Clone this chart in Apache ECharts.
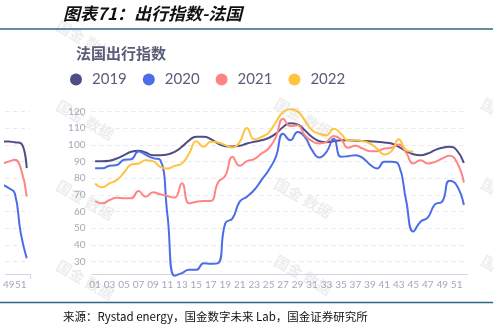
<!DOCTYPE html>
<html><head><meta charset="utf-8">
<script src="https://cdn.jsdelivr.net/npm/echarts@6/dist/echarts.min.js"></script>
<style>html,body{margin:0;padding:0;background:#fff}#c{width:493px;height:326px}</style>
</head><body><div id="c"></div>
<script>
const weeks = ['01','02','03','04','05','06','07','08','09','10','11','12','13','14','15','16','17','18','19','20','21','22','23','24','25','26','27','28','29','30','31','32','33','34','35','36','37','38','39','40','41','42','43','44','45','46','47','48','49','50','51','52'];
const seriesNames = ['2019','2020','2021','2022'];
const v2019 = [90.2,90.2,90.5,91.8,93.8,95.8,96.4,95.4,93.8,93.8,94.2,95.8,98.8,102.7,104.9,104.9,103.4,100.8,99.2,99,99.4,100.8,101.8,102.7,104.1,106.7,110.7,112.9,112.3,108.7,104.7,102.2,101.6,102.2,102.7,102.7,102.5,102.3,102.2,101.8,101.4,100.8,98.8,96.2,94.4,93.8,94.8,96.8,98.2,98.8,96.8,89.2];
const v2020 = [86,86,87.4,87.9,91,91.4,96,94,92,91,58,21.5,23,25,25,29,28.6,29,52.9,55.9,65.9,68.9,72.9,78.8,84.8,92.8,106.7,102.7,107.7,104.7,96.8,92.4,95.8,103.7,92.8,93.2,93.8,92.2,88.2,85.8,89.8,89.8,87.8,66.9,48,53.9,56.3,64.3,65.9,78.4,75.8,63.9];
const v2021 = [66.3,64.9,66.9,68.3,67.9,67.9,72.3,68.9,71.5,70.3,69.3,68.3,76.9,64.9,65.9,66.3,66.3,77.4,81.4,92.8,87.4,90.2,91.4,94.8,97.8,104.7,115.7,111.3,111.7,105.7,102.2,100.8,101.8,105.3,103.3,98.2,99.4,97.8,96.2,96.2,97.8,98.2,100.2,95.4,88.8,90.8,88.8,89.8,91.8,93.4,89.8,77.4];
const v2022 = [76.9,74.5,76.9,78.8,83.4,88.2,88.8,90.8,90.2,86.8,85.8,87.4,88.8,94.8,102.2,98.8,101.8,101.4,99.8,98.4,101.8,110.1,103.3,104.7,107.3,113.7,119.7,121.3,120.1,114.7,108.7,106.7,105.7,109.7,106.7,102.7,102.7,102.2,100.8,97.8,94.2,96.2,103.3,96.8,95.8];
// neighbouring (cropped) chart on the left edge: its last weeks only
const prevWeeks = [47,48,49,50,51,52];
const prevTail2019 = [102,102,102,101.5,101,86];
const prevTail2020 = [77,76,74,71,47,32];
const prevTail2021 = [89,89,90,91,86,69];
const prevWeekLabels = [49,51];
const yTicks = [30,40,50,60,70,80,90,100,110,120];
const colors = ['#4f4d88','#4d6cea','#ff8585','#ffc33f'];

const pairs = a => prevWeeks.map((w,i)=>[w,a[i]]);
const lab = {color:'#a3a8ba', fontSize:10, fontFamily:'Lato'};
const split = {show:true, lineStyle:{color:'#e8e8ec', type:[4,4], width:1}};

function yAxis(idx, showLab){
  return {type:'value', gridIndex:idx, min:22.5, max:120, splitNumber:10,
    axisLine:{show:false}, axisTick:{show:false}, splitLine:split,
    axisLabel:{show:showLab, ...lab, margin:6, showMinLabel:false,
      formatter:v => yTicks.includes(v) ? String(v) : ''}};
}
const wm = [];
[[85,40],[85,120],[85,200],[85,280],[303,118],[303,198],[303,275],[510,118],[510,198],[510,275]].forEach(p=>{
  wm.push({type:'text', x:p[0], y:p[1], rotation:-0.52, silent:true, z:0,
    style:{text:'国金 数据', fill:'rgba(190,190,195,0.28)', font:'bold 15px "Noto Sans CJK SC"', align:'center', verticalAlign:'middle'}});
});

const line = (name, data, c, xi, yi) => ({name, type:'line', data, xAxisIndex:xi, yAxisIndex:yi,
  smooth:0.5, symbol:'none', clip:false,
  lineStyle:{width:2, color:c}, itemStyle:{color:c}});

const chart = echarts.init(document.getElementById('c'), null, {renderer:'canvas'});
chart.setOption({
  animation:false,
  backgroundColor:'#fff',
  title:{text:'法国出行指数', left:71, top:41, textStyle:{fontSize:15, fontWeight:'bold', color:'#585d78', fontFamily:'"Noto Sans CJK SC"'}},
  legend:{data:seriesNames, left:70, top:72, icon:'circle', itemWidth:12, itemHeight:12, itemGap:16, padding:0,
    textStyle:{fontSize:15, color:'#585d78', fontFamily:'Lato', padding:[0,0,0,5]}},
  grid:[{left:91.5, right:25.5, top:111.5, bottom:52},
        {left:0, right:463, top:111.5, bottom:52}],
  xAxis:[
    {type:'category', gridIndex:0, data:weeks, boundaryGap:true,
      axisLine:{lineStyle:{color:'#d6d6dc'}}, axisTick:{show:false},
      axisLabel:{...lab, interval:1, margin:6}},
    {type:'value', gridIndex:1, min:48.4, max:52.55,
      axisLine:{lineStyle:{color:'#d6d6dc'}}, splitLine:{show:false},
      axisTick:{show:true, length:5, lineStyle:{color:'#d6d6dc'}, customValues:[52.55]},
      axisLabel:{...lab, margin:6, customValues:prevWeekLabels}}
  ],
  yAxis:[yAxis(0,true), yAxis(1,false)],
  graphic: wm.concat([
    {type:'text', x:63, y:14, style:{text:'图表71：出行指数-法国', font:'italic bold 17px "Noto Sans CJK SC"', fill:'#111', verticalAlign:'middle'}},
    {type:'line', shape:{x1:0,y1:29,x2:493,y2:29}, style:{stroke:'#2f6687', lineWidth:1.5}},
    {type:'line', shape:{x1:0,y1:302.5,x2:493,y2:302.5}, style:{stroke:'#2f6687', lineWidth:1.5}},
    {type:'text', x:63, y:317, style:{text:'来源：Rystad energy，国金数字未来 Lab，国金证券研究所', font:'11.5px "Noto Sans CJK SC"', fill:'#111', verticalAlign:'middle'}}
  ]),
  series:[
    line('2019', v2019, colors[0], 0, 0),
    line('2020', v2020, colors[1], 0, 0),
    line('2021', v2021, colors[2], 0, 0),
    line('2022', v2022, colors[3], 0, 0),
    line('prev2020', pairs(prevTail2020), colors[1], 1, 1),
    line('prev2021', pairs(prevTail2021), colors[2], 1, 1),
    line('prev2019', pairs(prevTail2019), colors[0], 1, 1)
  ]
});
</script></body></html>
